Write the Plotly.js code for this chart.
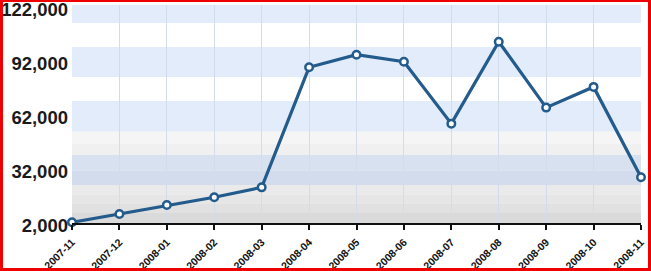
<!DOCTYPE html>
<html>
<head>
<meta charset="utf-8">
<script src="https://cdn.plot.ly/plotly-3.0.1.min.js"></script>
<style>
html,body{margin:0;padding:0;background:#fff;}
#chart{width:651px;height:271px;}
#frame{position:absolute;left:0;top:0;width:651px;height:271px;box-sizing:border-box;border-style:solid;border-color:#ee0000;border-width:2px 3px 3px 3px;pointer-events:none;}
</style>
</head>
<body>
<div id="chart"></div>
<div id="frame"></div>
<script>
const months = ["2007-11","2007-12","2008-01","2008-02","2008-03","2008-04","2008-05","2008-06","2008-07","2008-08","2008-09","2008-10","2008-11"];
const visits = [2400, 7000, 12000, 16300, 21800, 88500, 95500, 91600, 57200, 102700, 66100, 77600, 27400];
const yTicks = [2000, 32000, 62000, 92000, 122000];
const yTickText = ["2,000", "32,000", "62,000", "92,000", "122,000"];
const yRange = [2000, 123100];
// background bands: [from, to, colour]
const bandFrom = [113100, 99800, 83100, 69800, 52700, 46000, 39800, 31000, 23100, 18000, 13000, 8000, 2000];
const bandTo   = [123100, 113100, 99800, 83100, 69800, 52700, 46000, 39800, 31000, 23100, 18000, 13000, 8000];
const bandColor = ["#e3ecfa", "#ffffff", "#e3ecfa", "#ffffff", "#e3ecfa", "#f5f5f6", "#f0f0f1", "#d8e1ef", "#d3dcec", "#eaeaea", "#e6e6e6", "#e1e1e1", "#dadada"];

const shapes = bandFrom.map((f, i) => ({
  type: "rect", xref: "paper", yref: "y", x0: 0, x1: 1, y0: f, y1: bandTo[i],
  fillcolor: bandColor[i], line: {width: 0}, layer: "below"
}));

const trace = {
  x: months, y: visits, type: "scatter", mode: "lines+markers",
  line: {color: "#235b8c", width: 3.2},
  marker: {symbol: "circle", size: 7.5, color: "#ffffff", line: {color: "#235b8c", width: 2.5}},
  cliponaxis: false, hoverinfo: "skip"
};

const layout = {
  width: 651, height: 271,
  margin: {l: 72, r: 10, t: 5, b: 48},
  paper_bgcolor: "#ffffff", plot_bgcolor: "#ffffff",
  showlegend: false,
  shapes: shapes,
  xaxis: {
    type: "category", range: [0, 12],
    showgrid: true, gridcolor: "#d3dcea", gridwidth: 1,
    showline: true, linecolor: "#111111", linewidth: 2,
    ticks: "outside", ticklen: 5, tickwidth: 2, tickcolor: "#111111",
    tickangle: -45, ticklabeloverflow: "allow", ticklabelstandoff: 2,
    tickfont: {family: "Liberation Sans, Arial, sans-serif", size: 10.5, color: "#111111", weight: "bold"},
    zeroline: false, layer: "above traces"
  },
  yaxis: {
    range: yRange, tickvals: yTicks, ticktext: yTickText,
    showgrid: false, zeroline: false, showline: false, ticks: "",
    ticklabelstandoff: 3, ticklabelshift: 3, ticklabeloverflow: "allow",
    tickfont: {family: "Liberation Sans, Arial, sans-serif", size: 18.5, color: "#1a1a1a", weight: "bold"}
  }
};

Plotly.newPlot("chart", [trace], layout, {staticPlot: true, displayModeBar: false});
</script>
</body>
</html>
